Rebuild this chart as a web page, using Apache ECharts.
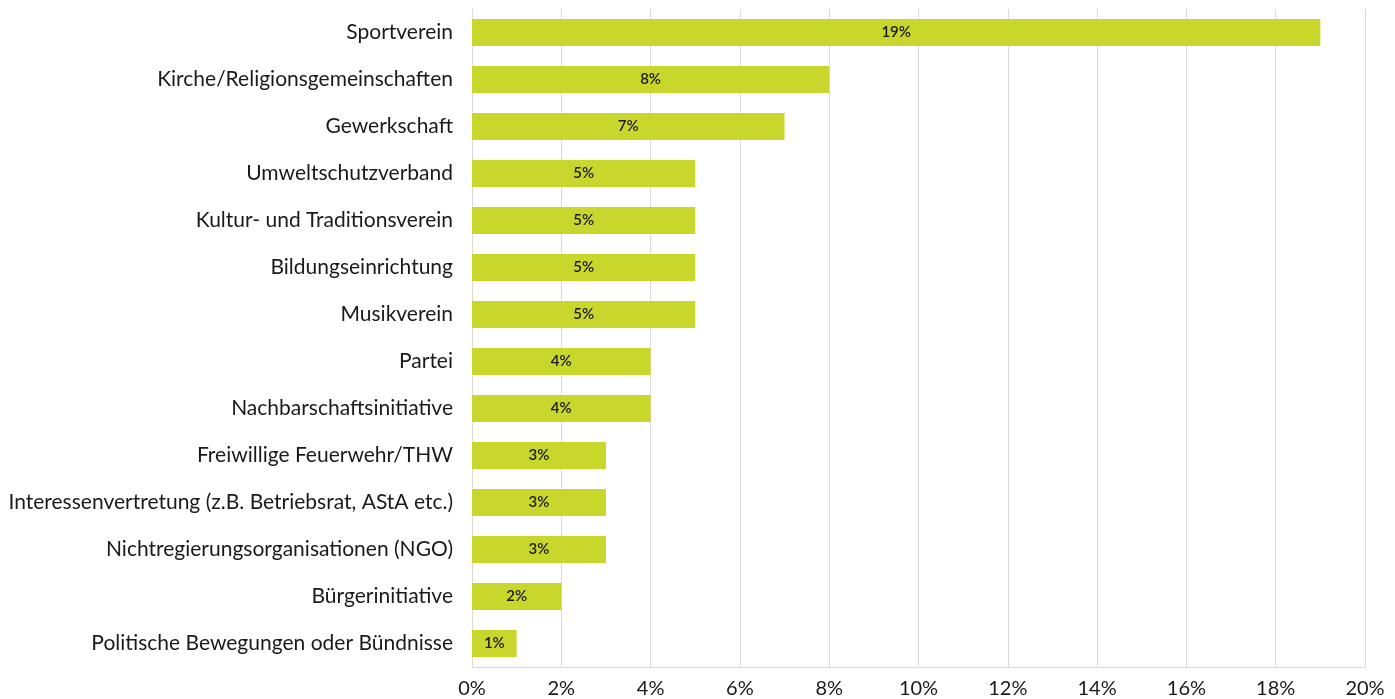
<!DOCTYPE html>
<html>
<head>
<meta charset="utf-8">
<script src="https://cdn.jsdelivr.net/npm/echarts@6/dist/echarts.min.js"></script>
<style>
  html, body { margin: 0; padding: 0; background: #fff; }
  #chart { width: 1395px; height: 699px; }
</style>
</head>
<body>
<div id="chart"></div>
<script>
// Kategorien von oben nach unten
var categories = [
  'Sportverein',
  'Kirche/Religionsgemeinschaften',
  'Gewerkschaft',
  'Umweltschutzverband',
  'Kultur- und Traditionsverein',
  'Bildungseinrichtung',
  'Musikverein',
  'Partei',
  'Nachbarschaftsinitiative',
  'Freiwillige Feuerwehr/THW',
  'Interessenvertretung (z.B. Betriebsrat, AStA etc.)',
  'Nichtregierungsorganisationen (NGO)',
  'Bürgerinitiative',
  'Politische Bewegungen oder Bündnisse'
];
var values = [19, 8, 7, 5, 5, 5, 5, 4, 4, 3, 3, 3, 2, 1];
var xTicks = [0, 2, 4, 6, 8, 10, 12, 14, 16, 18, 20];

var fontFam = 'Lato, "Noto Sans", sans-serif';
var ele = echarts.init(document.getElementById('chart'));

var option = {
  animation: false,
  grid: {
    left: 472,
    right: 30,
    top: 9,
    bottom: 32
  },
  xAxis: {
    type: 'value',
    min: xTicks[0],
    max: xTicks[xTicks.length - 1],
    interval: 2,
    axisLine: { show: true, lineStyle: { color: '#d9d9d9' } },
    axisTick: { show: false },
    splitLine: { show: true, lineStyle: { color: '#d9d9d9', width: 1 } },
    axisLabel: {
      formatter: '{value}%',
      color: '#1a1a1a',
      fontSize: 20,
      fontFamily: fontFam,
      margin: 12
    }
  },
  yAxis: {
    type: 'category',
    data: categories,
    inverse: true,
    axisLine: { show: true, lineStyle: { color: '#d9d9d9' } },
    axisTick: { show: false },
    axisLabel: {
      color: '#1a1a1a',
      fontSize: 21,
      fontFamily: fontFam,
      margin: 19
    }
  },
  series: [{
    type: 'bar',
    data: values,
    barCategoryGap: '43%',
    itemStyle: { color: '#c9d62c' },
    label: {
      show: true,
      position: 'inside',
      formatter: '{c}%',
      color: '#1a1a1a',
      fontSize: 15,
      fontWeight: 600,
      fontFamily: fontFam
    }
  }]
};

ele.setOption(option);
</script>
</body>
</html>
